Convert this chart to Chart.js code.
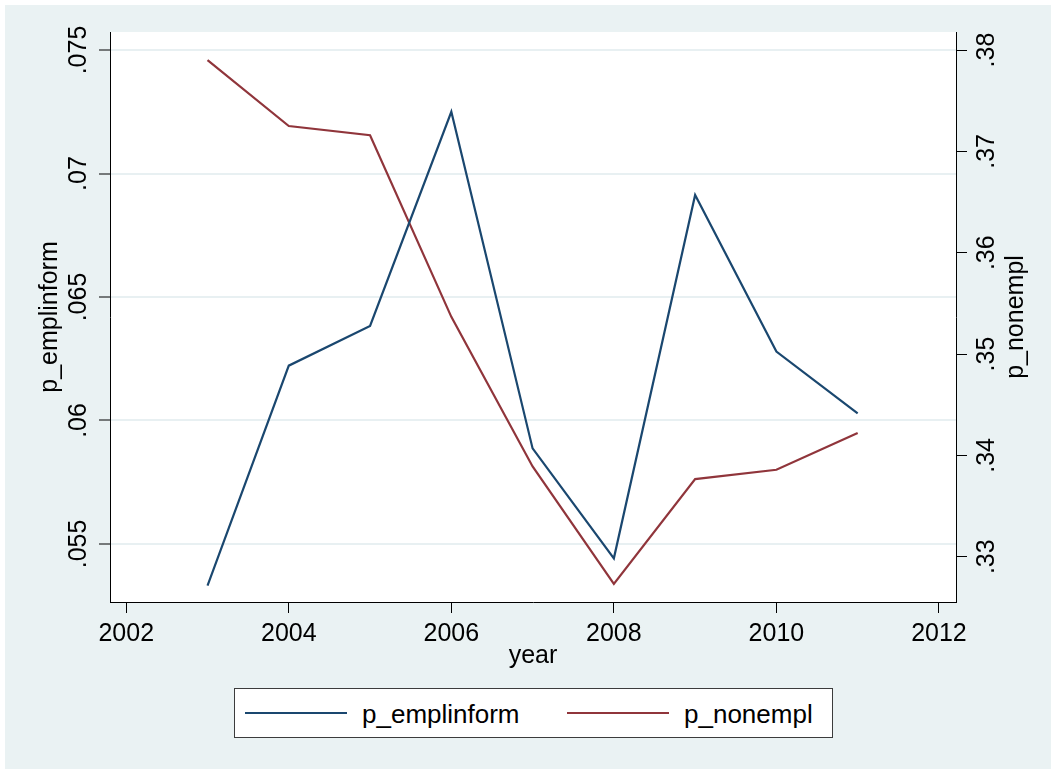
<!DOCTYPE html>
<html>
<head>
<meta charset="utf-8">
<title>p_emplinform and p_nonempl by year</title>
<script src="https://cdn.jsdelivr.net/npm/chart.js@4.4.1/dist/chart.umd.min.js"></script>
<style>
  html, body { margin: 0; padding: 0; background: #ffffff; }
  body { width: 1051px; height: 769px; position: relative; overflow: hidden; font-family: "Liberation Sans", Arial, sans-serif; }
  #frame { position: absolute; left: 5px; top: 5px; right: 0; bottom: 0; background: #eaf2f3; }
  #wrap { position: absolute; left: 0; top: 0; width: 1051px; height: 769px; }
  #legend { position: absolute; left: 234px; top: 688px; width: 597px; height: 48px; background: #fff; border: 1px solid #3c3c3c; }
  .swatch { position: absolute; top: 23px; width: 102px; height: 2px; }
  .label { position: absolute; top: 10px; font-size: 26px; line-height: 30px; color: #000; white-space: nowrap; }
</style>
</head>
<body>
<div id="frame"></div>
<div id="wrap"><canvas id="chart" width="1051" height="769"></canvas></div>
<div id="legend">
  <span class="swatch" style="left:10px; background:#1a476f"></span>
  <span class="label" style="left:127px">p_emplinform</span>
  <span class="swatch" style="left:332px; background:#90353b"></span>
  <span class="label" style="left:449px">p_nonempl</span>
</div>
<script>
// Data
const years = [2003, 2004, 2005, 2006, 2007, 2008, 2009, 2010, 2011];
const emplinform = [0.05331, 0.06222, 0.06383, 0.0725, 0.05887, 0.05442, 0.06913, 0.06279, 0.06029];
const nonempl = [0.37901, 0.3725, 0.37159, 0.35367, 0.33891, 0.32731, 0.33766, 0.33858, 0.3422];

// Tick labels
const yearTicks = [2002, 2004, 2006, 2008, 2010, 2012];
const leftTicks = [0.055, 0.06, 0.065, 0.07, 0.075];
const rightTicks = [0.33, 0.34, 0.35, 0.36, 0.37, 0.38];

const BLUE = "#1a476f";
const RED = "#90353b";
const GRID = "#e8f0f2";
const FONT = "'Liberation Sans', Arial, sans-serif";

const stripZero = (v) => String(v).replace(/^0\./, ".");

// white plot region + right axis title (reads bottom-to-top like the left one)
const plotBg = {
  id: "plotBg",
  beforeDraw(chart) {
    const { ctx, chartArea: a } = chart;
    ctx.save();
    ctx.fillStyle = "#ffffff";
    ctx.fillRect(a.left, a.top, a.right - a.left, a.bottom - a.top);
    ctx.restore();
  },
  afterDraw(chart) {
    const { ctx, chartArea: a } = chart;
    ctx.save();
    ctx.translate(1016, (a.top + a.bottom) / 2);
    ctx.rotate(-Math.PI / 2);
    ctx.font = "25px " + FONT;
    ctx.fillStyle = "#000";
    ctx.textAlign = "center";
    ctx.textBaseline = "middle";
    ctx.fillText("p_nonempl", 0, 0);
    ctx.restore();
  },
};

new Chart(document.getElementById("chart"), {
  type: "line",
  data: {
    datasets: [
      {
        label: "p_emplinform",
        data: years.map((x, i) => ({ x, y: emplinform[i] })),
        borderColor: BLUE,
        borderWidth: 2.2,
        pointRadius: 0,
        tension: 0,
        yAxisID: "y",
      },
      {
        label: "p_nonempl",
        data: years.map((x, i) => ({ x, y: nonempl[i] })),
        borderColor: RED,
        borderWidth: 2.2,
        pointRadius: 0,
        tension: 0,
        yAxisID: "y1",
      },
    ],
  },
  options: {
    responsive: false,
    animation: false,
    events: [],
    layout: { padding: { top: 32, bottom: 87, left: 0, right: 0 } },
    plugins: { legend: { display: false }, tooltip: { enabled: false } },
    scales: {
      x: {
        type: "linear",
        min: 2001.8,
        max: 2012.21,
        afterBuildTicks: (s) => { s.ticks = yearTicks.map((v) => ({ value: v })); },
        afterFit: (s) => { s.height = 80; },
        border: { display: true, color: "#000", width: 1 },
        grid: { drawOnChartArea: false, drawTicks: true, tickLength: 11, tickColor: "#000", tickWidth: 1 },
        ticks: { color: "#000", font: { family: FONT, size: 25 }, padding: 6, maxRotation: 0, callback: (v) => String(v) },
        title: { display: true, text: "year", color: "#000", font: { family: FONT, size: 25 }, padding: { top: 0, bottom: 11 } },
      },
      y: {
        position: "left",
        min: 0.05265,
        max: 0.07573,
        afterBuildTicks: (s) => { s.ticks = leftTicks.map((v) => ({ value: v })); },
        afterFit: (s) => { s.width = 110; },
        border: { display: true, color: "#000", width: 1 },
        grid: { color: GRID, lineWidth: 2, drawTicks: true, tickLength: 11, tickColor: "#000", tickWidth: 1 },
        ticks: { color: "#000", font: { family: FONT, size: 25 }, minRotation: 90, maxRotation: 90, crossAlign: "center", padding: -4, callback: stripZero },
        title: { display: true, text: "p_emplinform", color: "#000", font: { family: FONT, size: 25 }, padding: { top: 35, bottom: 0 } },
      },
      y1: {
        position: "right",
        min: 0.32553,
        max: 0.38178,
        afterBuildTicks: (s) => { s.ticks = rightTicks.map((v) => ({ value: v })); },
        afterFit: (s) => { s.width = 95; },
        border: { display: true, color: "#000", width: 1 },
        grid: { drawOnChartArea: false, drawTicks: true, tickLength: 11, tickColor: "#000", tickWidth: 1 },
        ticks: { color: "#000", font: { family: FONT, size: 25 }, minRotation: 90, maxRotation: 90, crossAlign: "center", padding: 3, callback: stripZero },
      },
    },
  },
  plugins: [plotBg],
});
</script>
</body>
</html>
